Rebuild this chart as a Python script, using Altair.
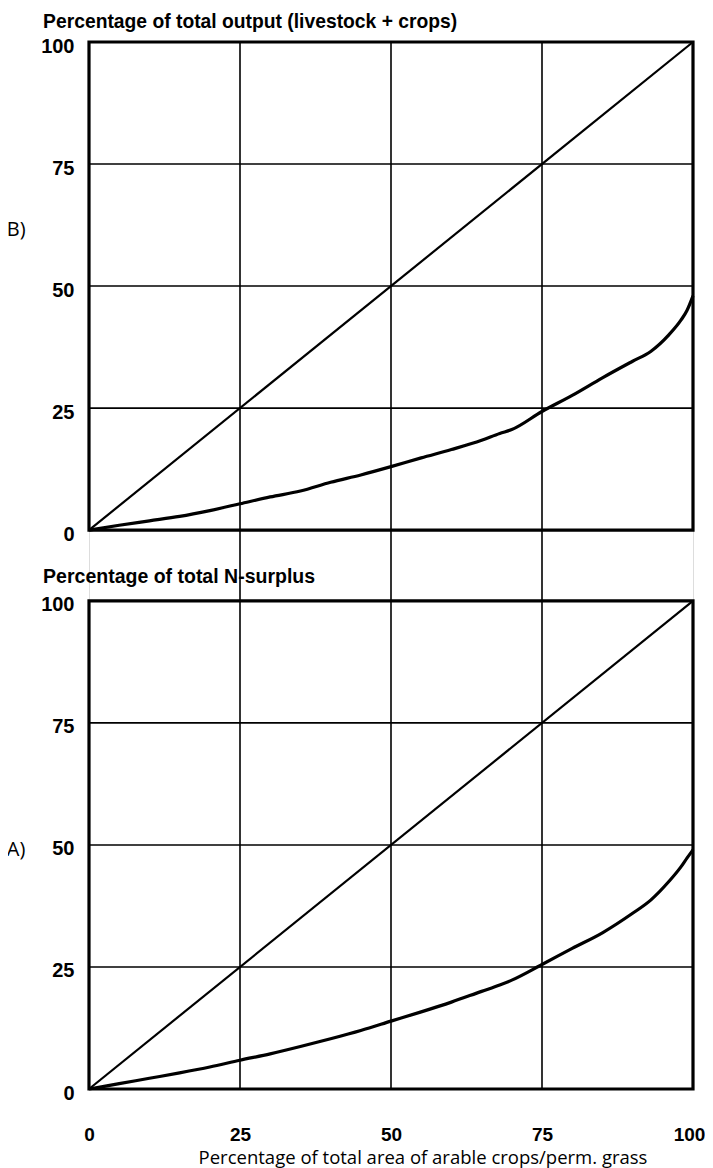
import altair as alt
import pandas as pd

# ---- data ----
area_pct = [0, 5, 10, 15, 20, 25, 30, 35, 40, 45, 50, 55, 60, 65, 68, 70, 75, 80, 85, 90, 93, 96, 98, 99, 100]
output_pct = [0, 1.0, 1.9, 2.8, 4.0, 5.4, 6.8, 8.0, 9.8, 11.3, 13.0, 14.8, 16.5, 18.4, 19.8, 20.6, 24.3, 27.6, 31.2, 34.6, 36.6, 40.0, 43.0, 45.0, 48.0]
nsurplus_pct = [0, 1.1, 2.2, 3.3, 4.5, 5.9, 7.2, 8.7, 10.3, 12.0, 13.9, 15.8, 17.8, 20.0, 21.3, 22.3, 25.5, 28.8, 32.0, 36.0, 38.7, 42.5, 45.5, 47.3, 49.0]
equality = [0, 100]
grid_levels = [25, 50, 75]
tick_values = [0, 25, 50, 75, 100]

panel_titles = {"B": "Percentage of total output (livestock + crops)",
                "A": "Percentage of total N-surplus"}
x_title = "Percentage of total area of arable crops/perm. grass"

GAP = 14.5          # vertical gap between the panels, in y units
TOP = 100 + GAP     # offset of panel B
YMAX = TOP + 100

rows = []
for panel, vals in (("B", output_pct), ("A", nsurplus_pct)):
    for x, y in zip(area_pct, vals):
        rows.append({"panel": panel, "series": "curve", "x": x, "y": y})
    for v in equality:
        rows.append({"panel": panel, "series": "diag", "x": v, "y": v})
lines = pd.DataFrame(rows)
lines["yy"] = lines.apply(lambda r: r["y"] + (TOP if r["panel"] == "B" else 0), axis=1)
lines["key"] = lines["panel"] + lines["series"]

hgrid = pd.DataFrame([{"panel": p, "y": lv + (TOP if p == "B" else 0)} for p in ("B", "A") for lv in grid_levels])
vgrid = pd.DataFrame({"x": grid_levels})
frames = pd.DataFrame([{"panel": "B", "y0": TOP, "y1": TOP + 100}, {"panel": "A", "y0": 0, "y1": 100}])

xs = alt.Scale(domain=[0, 100], nice=False, zero=False)
ys = alt.Scale(domain=[0, YMAX], nice=False, zero=False)

ytick_vals = tick_values + [v + TOP for v in tick_values]

FONT = "Liberation Sans"

base_axis_y = alt.Axis(values=ytick_vals, labelExpr=f"datum.value > 107 ? format(datum.value - {TOP}, 'd') : format(datum.value, 'd')",
                       domain=False, ticks=False, grid=False, title=None,
                       labelFont=FONT, labelFontWeight="bold", labelFontSize=20, labelColor="black",
                       labelPadding=15, labelOffset=4)
base_axis_x = alt.Axis(values=tick_values, domain=False, ticks=False, grid=False, title=None,
                       labelFont=FONT, labelFontWeight="bold", labelFontSize=19, labelColor="black",
                       labelPadding=36, labelBaseline="top", labelFlush=False,
                       labelOffset=alt.ConditionalAxisNumber(condition={"test": "datum.value == 100", "value": -4}, value=0))

vrules = alt.Chart(vgrid).mark_rule(color="black", strokeWidth=1.6).encode(
    x=alt.X("x:Q", scale=xs, axis=base_axis_x),
    y=alt.datum(0, scale=ys, axis=base_axis_y),
    y2=alt.datum(YMAX),
)

hrules = alt.Chart(hgrid).mark_rule(color="black", strokeWidth=1.6).encode(
    x=alt.datum(0), x2=alt.datum(100),
    y=alt.Y("y:Q", scale=ys),
)

frame = alt.Chart(frames).mark_rect(filled=False, stroke="black", strokeWidth=3.2).encode(
    x=alt.datum(0), x2=alt.datum(100),
    y=alt.Y("y0:Q", scale=ys), y2="y1:Q",
)

diag = alt.Chart(lines[lines.series == "diag"]).mark_line(color="black", strokeWidth=2.2).encode(
    x=alt.X("x:Q", scale=xs), y=alt.Y("yy:Q", scale=ys), detail="key:N", order="x:Q"
)
curve = alt.Chart(lines[lines.series == "curve"]).mark_line(color="black", strokeWidth=3.2, interpolate="monotone").encode(
    x=alt.X("x:Q", scale=xs), y=alt.Y("yy:Q", scale=ys), detail="key:N", order="x:Q"
)

def label(text, x, y, size, weight="bold", font=FONT, align="left"):
    return alt.Chart(pd.DataFrame({"t": [text]})).mark_text(
        font=font, fontSize=size, fontWeight=weight, align=align, baseline="alphabetic", color="black"
    ).encode(x=alt.datum(x, scale=xs), y=alt.datum(y, scale=ys), text="t:N")

t_top = label(panel_titles["B"], -7.6, YMAX + 2.9, 19.3)
t_bot = label(panel_titles["A"], -7.6, 103.6, 19.5)
lab_b = label("B)", -13.6, TOP + 60.3, 20, weight="normal", font="Open Sans")
lab_a = label("A)", -13.6, 47.8, 20, weight="normal", font="Open Sans")
t_x = label(x_title, 55.3, -15.3, 18.5, weight="normal", font="Open Sans", align="center")

chart = alt.layer(vrules, hrules, frame, diag, curve, t_top, t_bot, lab_b, lab_a, t_x).properties(
    width=604, height=1047,
    autosize=alt.AutoSizeParams(type="none"),
    padding={"left": 81, "top": 34, "right": 12, "bottom": 80},
).configure_view(stroke=None).configure(background="white")

chart.save("out.html", embed_options={"renderer": "svg", "actions": False})
